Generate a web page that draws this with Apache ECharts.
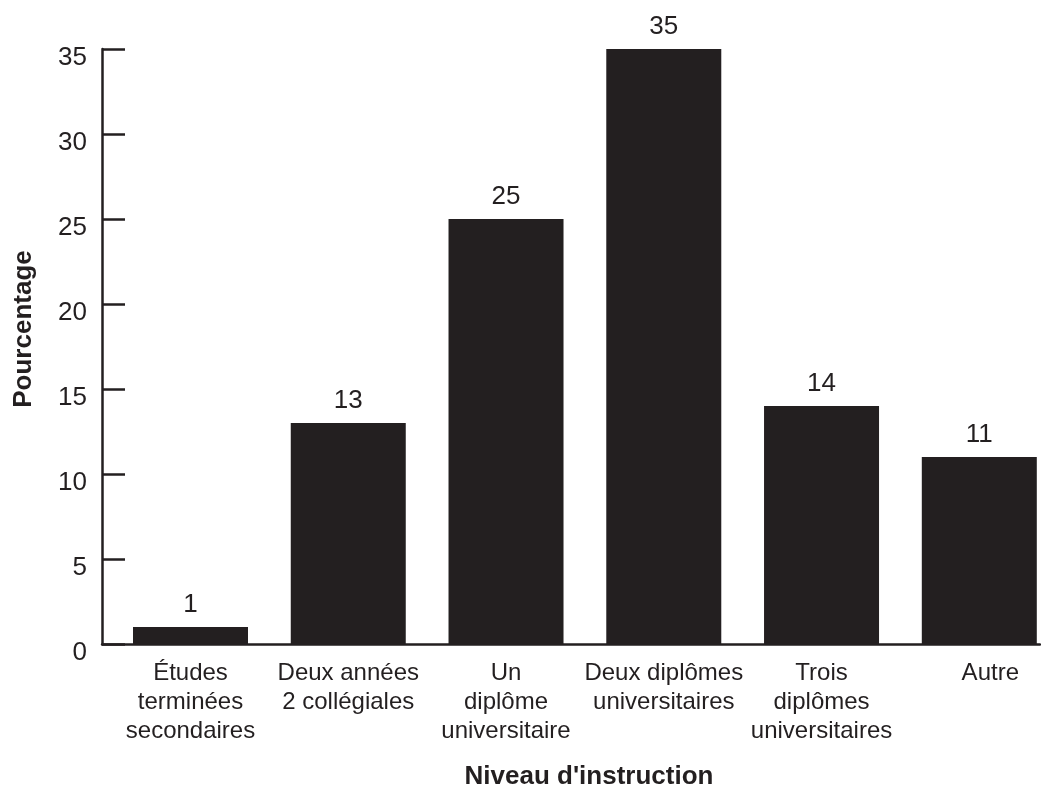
<!DOCTYPE html>
<html>
<head>
<meta charset="utf-8">
<script src="https://cdn.jsdelivr.net/npm/echarts@6/dist/echarts.min.js"></script>
<style>html,body{margin:0;padding:0;background:#fff;}#c{width:1041px;height:789px;}</style>
</head>
<body>
<div id="c"></div>
<script>
const categories = [
  "Études\nterminées\nsecondaires",
  "Deux années\n2 collégiales",
  "Un\ndiplôme\nuniversitaire",
  "Deux diplômes\nuniversitaires",
  "Trois\ndiplômes\nuniversitaires",
  "Autre"
];
const values = [1, 13, 25, 35, 14, 11];
const yTicks = [0, 5, 10, 15, 20, 25, 30, 35];
const yAxisTitle = "Pourcentage";
const xAxisTitle = "Niveau d'instruction";

const ink = '#231f20';
const font = 'Liberation Sans, Arial, sans-serif';
const chart = echarts.init(document.getElementById('c'));
chart.setOption({
  animation: false,
  backgroundColor: '#fff',
  grid: [
    {left: 102, right: 1, top: 49, bottom: 145},
    {left: 190.5, right: 61.7, top: 49, bottom: 145}
  ],
  xAxis: [
    {gridIndex: 0, type: 'category', data: categories, axisLine: {lineStyle: {color: ink, width: 2.5}},
     axisTick: {show: false}, axisLabel: {show: false}, splitLine: {show: false}},
    {gridIndex: 1, type: 'category', boundaryGap: false,
     data: categories.map((c, i) => i === 5 ? {value: c, textStyle: {padding: [0, 0, 0, 22]}} : c),
     axisLine: {show: false}, axisTick: {show: false},
     axisLabel: {interval: 0, color: ink, fontFamily: font, fontSize: 24, lineHeight: 29, margin: 15}}
  ],
  yAxis: [
    {gridIndex: 0, type: 'value', min: yTicks[0], max: yTicks[yTicks.length - 1], interval: 5,
     axisLine: {show: true, lineStyle: {color: ink, width: 2.5}},
     axisTick: {show: true, inside: true, length: 23, lineStyle: {color: ink, width: 2.5}},
     axisLabel: {color: ink, fontFamily: font, fontSize: 26, margin: 15, verticalAlign: 'top', lineHeight: 18},
     splitLine: {show: false}},
    {gridIndex: 1, type: 'value', min: yTicks[0], max: yTicks[yTicks.length - 1], show: false}
  ],
  series: [{
    type: 'bar', xAxisIndex: 1, yAxisIndex: 1, data: values, barWidth: 115, clip: false,
    itemStyle: {color: ink},
    label: {show: true, position: 'top', distance: 9, color: ink, fontFamily: font, fontSize: 26}
  }],
  graphic: [
    {type: 'text', x: 24, y: 329, rotation: Math.PI / 2,
     style: {text: yAxisTitle, fill: ink, font: 'bold 26px ' + font, textAlign: 'center', textVerticalAlign: 'middle'}},
    {type: 'text', x: 589, y: 777,
     style: {text: xAxisTitle, fill: ink, font: 'bold 26px ' + font, textAlign: 'center', textVerticalAlign: 'middle'}}
  ]
});
</script>
</body>
</html>
